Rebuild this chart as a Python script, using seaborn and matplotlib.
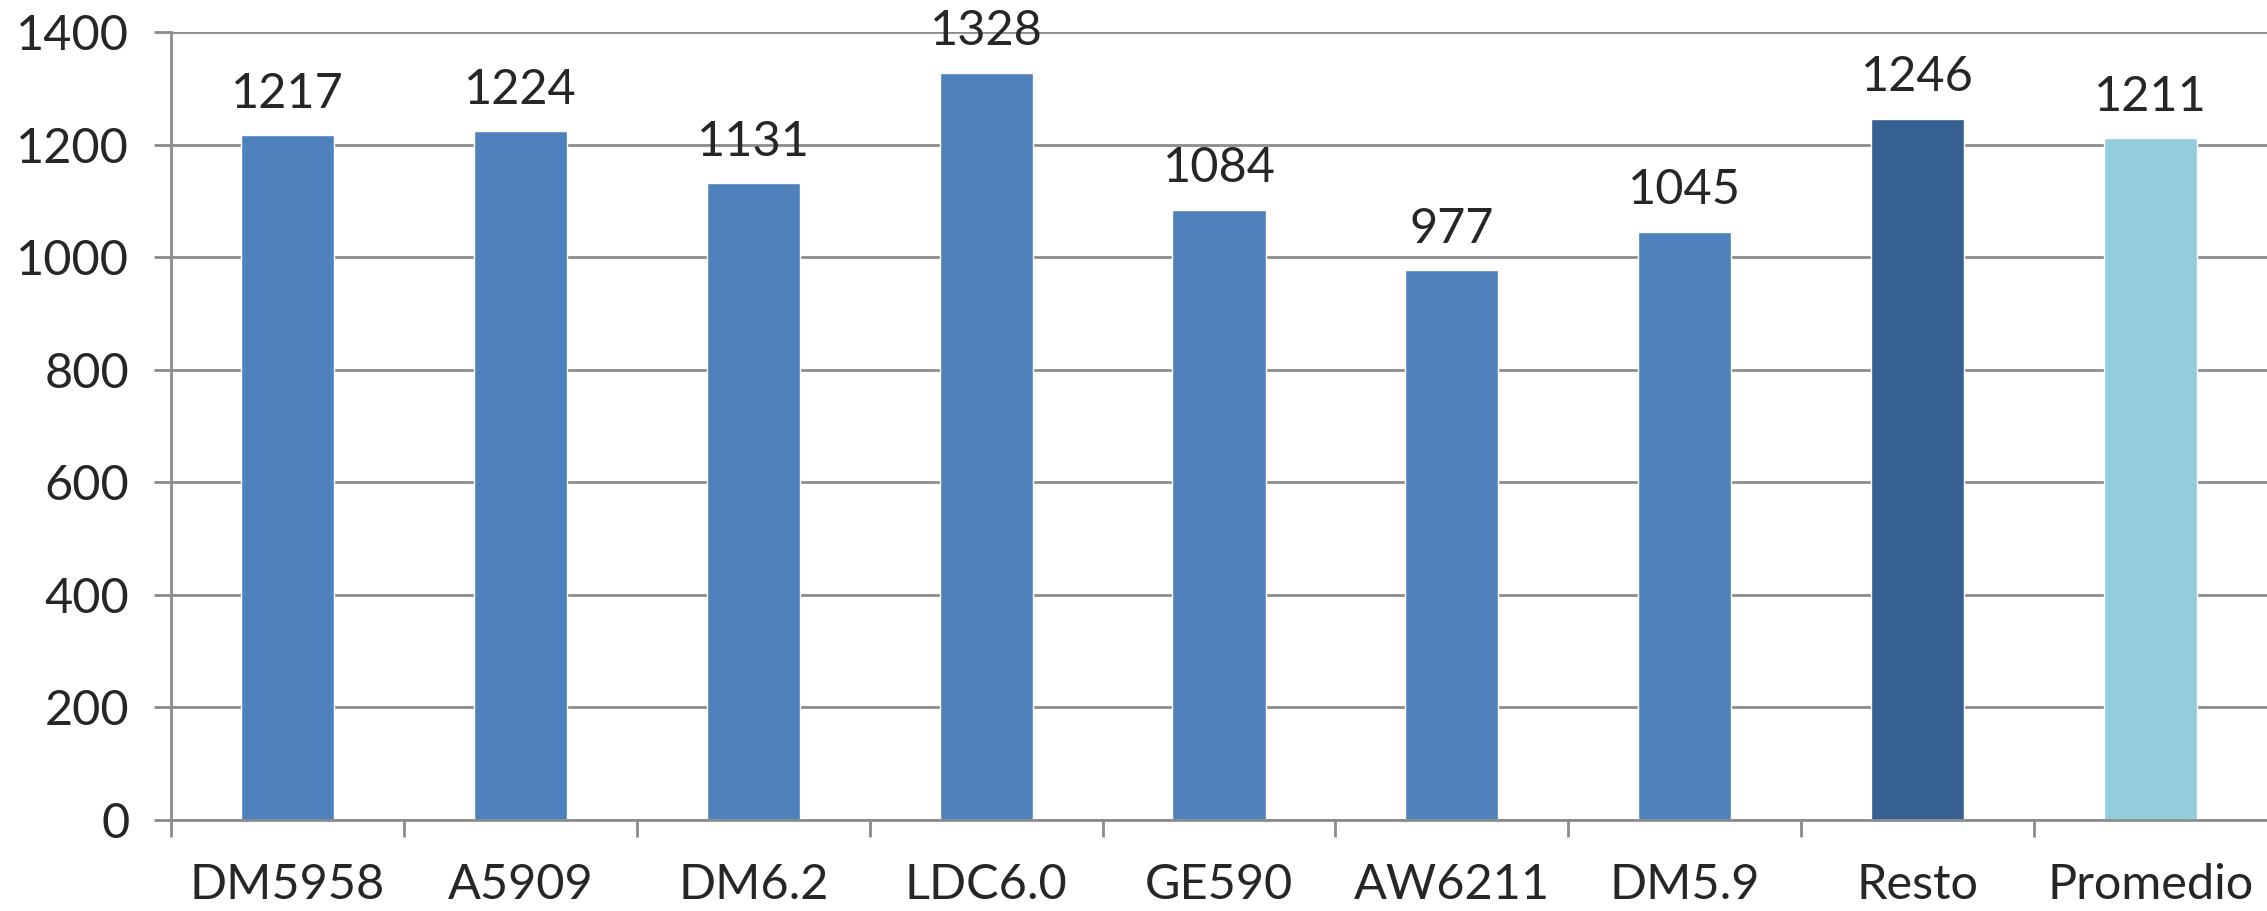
import matplotlib
matplotlib.use("Agg")
import matplotlib.pyplot as plt
import seaborn as sns
import pandas as pd
from matplotlib.ticker import FixedLocator, NullFormatter

# data
variedades = ["DM5958", "A5909", "DM6.2", "LDC6.0", "GE590", "AW6211", "DM5.9", "Resto", "Promedio"]
rendimiento = [1217, 1224, 1131, 1328, 1084, 977, 1045, 1246, 1211]
colores = ["#4F81BD"] * 7 + ["#366092", "#93CDDD"]

df = pd.DataFrame({"variedad": variedades, "valor": rendimiento})

sns.set_style("white")
plt.rcParams["font.family"] = ["Lato", "DejaVu Sans"]

fig = plt.figure(figsize=(22.67, 9.11), dpi=100)
ax = fig.add_axes([171 / 2267, 1 - 820 / 911, 1 - 171 / 2267, (820 - 32) / 911])

sns.barplot(data=df, x="variedad", y="valor", hue="variedad", palette=colores,
            width=0.4, legend=False, ax=ax, saturation=1)

for c in ax.containers:
    ax.bar_label(c, fmt="%d", padding=14, fontsize=35)

gris = "#8C8C8C"
ax.set_ylim(0, 1400)
ax.set_xlim(-0.5, len(variedades) - 0.5)
ax.set_yticks(range(0, 1401, 200))
ax.yaxis.grid(True, color=gris, linewidth=2)
ax.set_axisbelow(True)

for s in ["top", "right"]:
    ax.spines[s].set_visible(False)
for s in ["left", "bottom"]:
    ax.spines[s].set_color(gris)
    ax.spines[s].set_linewidth(2)

ax.tick_params(axis="y", direction="out", length=12, width=2, color=gris,
               labelsize=35, pad=18, left=True)
ax.tick_params(axis="x", which="major", length=0, labelsize=35, pad=31)
ax.xaxis.set_minor_locator(FixedLocator([i - 0.5 for i in range(len(variedades))]))
ax.xaxis.set_minor_formatter(NullFormatter())
ax.tick_params(axis="x", which="minor", direction="out", length=12, width=2,
               color=gris, bottom=True)
ax.set_xlabel("")
ax.set_ylabel("")

fig.savefig("out.png", dpi=100)
